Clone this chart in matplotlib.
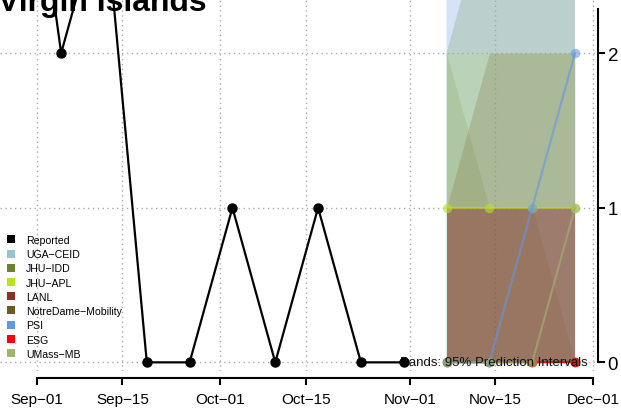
import matplotlib
matplotlib.use("Agg")
import matplotlib.pyplot as plt
import matplotlib.dates as mdates
from matplotlib.lines import Line2D
import pandas as pd

plt.rcParams['font.family'] = ['Liberation Sans', 'DejaVu Sans']

# ---------------- data ----------------
title = "Virgin Islands"
reported_dates = ["2020-08-29", "2020-09-05", "2020-09-12", "2020-09-19", "2020-09-26",
                  "2020-10-03", "2020-10-10", "2020-10-17", "2020-10-24", "2020-10-31"]
reported_values = [4, 2, 3, 0, 0, 1, 0, 1, 0, 0]

fc_dates = ["2020-11-07", "2020-11-14", "2020-11-21", "2020-11-28"]
esg_dates = ["2020-11-21", "2020-11-28"]

models = ["UGA\u2212CEID", "JHU\u2212IDD", "JHU\u2212APL", "LANL",
          "NotreDame\u2212Mobility", "PSI", "ESG", "UMass\u2212MB"]
model_colors = ["#96C3D2", "#6E822D", "#B9E128", "#8C3223",
                "#6E5A1E", "#6496E6", "#FF0000", "#A0B46E"]

uga_point = [0, 0, 0, 0]
uga_lower = [0, 0, 0, 0]
uga_upper = [2, 3, 3, 3]

jhuidd_point = [0, 0, 0, 0]
jhuidd_lower = [0, 0, 0, 0]
jhuidd_upper = [2, 1, 1, 0]

jhuapl_point = [1, 1, 1, 1]
jhuapl_lower = [1, 1, 1, 1]
jhuapl_upper = [2, 2, 2, 2]

lanl_point = [0, 0, 0, 0]
lanl_lower = [0, 0, 0, 0]
lanl_upper = [1, 1, 1, 1]

nd_point = [0, 0, 0, 0]
nd_lower = [0, 0, 0, 0]
nd_upper = [1, 2, 2, 2]

psi_point = [0, 0, 1, 2]
psi_lower = [0, 0, 0, 0]
psi_upper = [3, 3, 4, 5]

esg_point = [0, 0]
esg_lower = [0, 0]
esg_upper = [0, 0]

umass_point = [0, 0, 0, 1]
umass_lower = [0, 0, 0, 0]
umass_upper = [2, 3, 3, 3]

tick_dates = ["2020-09-01", "2020-09-15", "2020-10-01", "2020-10-15",
              "2020-11-01", "2020-11-15", "2020-12-01"]
tick_labels = ["Sep\u221201", "Sep\u221215", "Oct\u221201", "Oct\u221215",
               "Nov\u221201", "Nov\u221215", "Dec\u221201"]
y_ticks = [0, 1, 2]
band_note = "Bands: 95% Prediction Intervals"

# ---------------- styling ----------------
band_alpha = [0.25, 0.14, 0.13, 0.45, 0.2, 0.27, 0.3, 0.25]
band_order = [5, 0, 7, 2, 1, 4, 3, 6]

# ---------------- figure ----------------
W, H = 621, 414
fig = plt.figure(figsize=(W / 100, H / 100), dpi=100)
ax_left, ax_right, ax_top, ax_bottom = 0, 598, 0, 372
ax = fig.add_axes([ax_left / W, (H - ax_bottom) / H,
                   (ax_right - ax_left) / W, (ax_bottom - ax_top) / H])

d = lambda s: mdates.date2num(pd.Timestamp(s))
sep01 = d("2020-09-01")
ax.set_xlim(sep01 - 6.0, sep01 + 91.76)
ax.set_ylim(-0.056, 2.35)

# grid
for t in tick_dates:
    ax.axvline(d(t), color="#AAAAAA", lw=1, ls=(0, (1, 2.5)), zorder=0)
for yv in y_ticks:
    ax.axhline(yv, color="#AAAAAA", lw=1, ls=(0, (1, 2.5)), zorder=0)

fc_x = [d(s) for s in fc_dates]
esg_x = [d(s) for s in esg_dates]

series = [
    (fc_x, uga_point, uga_lower, uga_upper),
    (fc_x, jhuidd_point, jhuidd_lower, jhuidd_upper),
    (fc_x, jhuapl_point, jhuapl_lower, jhuapl_upper),
    (fc_x, lanl_point, lanl_lower, lanl_upper),
    (fc_x, nd_point, nd_lower, nd_upper),
    (fc_x, psi_point, psi_lower, psi_upper),
    (esg_x, esg_point, esg_lower, esg_upper),
    (fc_x, umass_point, umass_lower, umass_upper),
]

for i in band_order:
    xs, pt, lo, hi = series[i]
    ax.fill_between(xs, lo, hi, color=model_colors[i], alpha=band_alpha[i],
                    lw=0, zorder=1)

for (xs, pt, lo, hi), col in zip(series, model_colors):
    ax.plot(xs, pt, color=col, lw=1.6, alpha=0.6, marker="o", markersize=6.8,
            markeredgewidth=0, zorder=2)

ax.text(d("2020-11-30") + 0.1, 0, band_note, ha="right", va="center",
        fontsize=9.5, color="#111111", zorder=3)

rx = [d(s) for s in reported_dates]
ax.plot(rx, reported_values, color="black", lw=1.6, marker="o",
        markersize=6.5, zorder=4)

# axes styling
for s in ["top", "left"]:
    ax.spines[s].set_visible(False)
ax.spines["bottom"].set_position(("outward", 5.3))
ax.spines["bottom"].set_bounds(d(tick_dates[0]), d(tick_dates[-1]))
ax.spines["bottom"].set_linewidth(1.5)
ax.spines["right"].set_bounds(0, 2.285)
ax.spines["right"].set_linewidth(1.5)
ax.set_xticks([d(t) for t in tick_dates])
ax.set_xticklabels(tick_labels, fontsize=11)
ax.yaxis.tick_right()
ax.set_yticks(y_ticks)
ax.set_yticklabels([str(v) for v in y_ticks], fontsize=13.5)
ax.tick_params(axis="x", length=5, width=1.5, pad=5)
ax.tick_params(axis="y", length=5, width=1.5, pad=2)
ax.set_facecolor("none")

fig.text(-2 / W, (H - 11) / H, title, fontsize=23, fontweight="bold",
         ha="left", va="baseline")

handles = [Line2D([], [], ls="none", marker="s", markersize=5.8,
                  markerfacecolor="black", markeredgewidth=0)]
handles += [Line2D([], [], ls="none", marker="s", markersize=5.8,
                   markerfacecolor=c, markeredgewidth=0) for c in model_colors]
labels = ["Reported"] + models
fig.legend(handles, labels, loc="upper left",
           bbox_to_anchor=(6 / W, (H - 236) / H), frameon=False,
           fontsize=7.6, handlelength=0.95, handletextpad=0.95,
           labelspacing=0.4, borderpad=0, borderaxespad=0)

fig.savefig("out.png", dpi=100)
